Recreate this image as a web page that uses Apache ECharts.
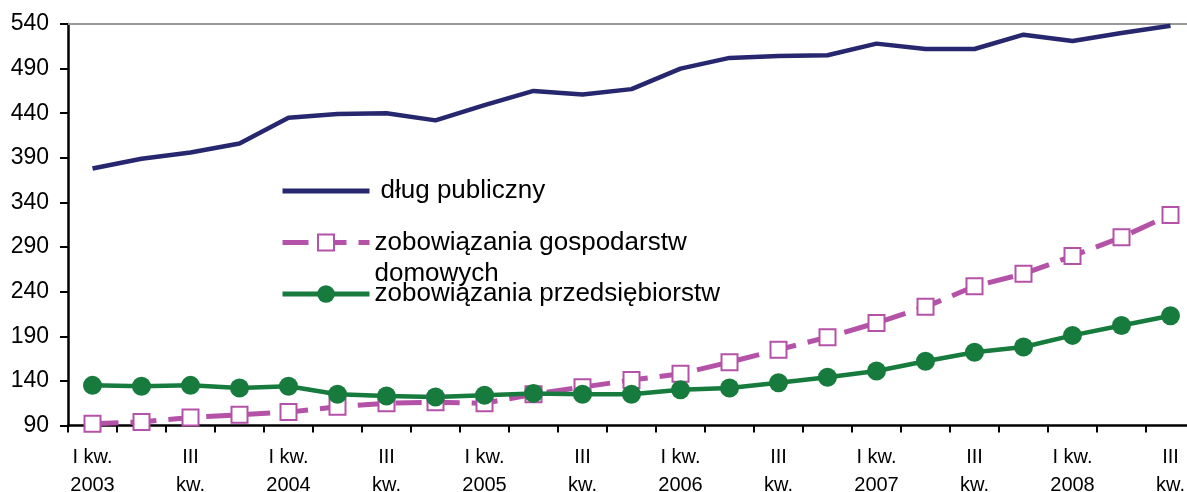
<!DOCTYPE html>
<html>
<head>
  <meta charset="utf-8">
  <script src="https://cdn.jsdelivr.net/npm/echarts@6/dist/echarts.min.js"></script>
  <style>
    html, body { margin: 0; padding: 0; background: #fff; }
    #main { width: 1187px; height: 492px; }
  </style>
</head>
<body>
  <div id="main"></div>
  <script type="text/javascript">
    // kwartaly 2003 - III kw. 2008 (II i IV kw. bez podpisu)
    var quarters = [
      'I kw.\n2003', 'II kw.', 'III\nkw.', 'IV kw.',
      'I kw.\n2004', 'II kw.', 'III\nkw.', 'IV kw.',
      'I kw.\n2005', 'II kw.', 'III\nkw.', 'IV kw.',
      'I kw.\n2006', 'II kw.', 'III\nkw.', 'IV kw.',
      'I kw.\n2007', 'II kw.', 'III\nkw.', 'IV kw.',
      'I kw.\n2008', 'II kw.', 'III\nkw.'
    ];
    var dlugPubliczny = [378, 389, 396, 406, 435, 439, 440, 432, 449, 465, 461, 467, 490, 502, 504, 505, 518, 512, 512, 528, 521, 530, 538];
    var gospodarstwa = [92, 94, 99, 102, 105, 111, 115, 116, 115, 125, 133, 141, 148, 161, 175, 189, 205, 223, 246, 260, 280, 301, 326];
    var przedsiebiorstwa = [135, 134, 135, 132, 134, 125, 123, 122, 124, 126, 125, 125, 130, 132, 138, 144, 151, 162, 172, 178, 191, 202, 213];

    var FONT = 'Liberation Sans, Arial, sans-serif';
    var names = ['dług publiczny', 'zobowiązania gospodarstw domowych', 'zobowiązania przedsiębiorstw'];
    var BLUE = '#27276f', PINK = '#b452a8', GREEN = '#167b3d';

    var myChart = echarts.init(document.getElementById('main'));
    var option = {
      animation: false,
      backgroundColor: '#fff',
      grid: { left: 68, top: 24, width: 1127, height: 401.5, outerBoundsMode: 'none', containLabel: false },
      legend: [
        {
          data: [names[0]], left: 280, top: 178, padding: 0,
          itemWidth: 87, itemHeight: 20,
          itemStyle: { color: 'transparent', borderWidth: 0 },
          lineStyle: { width: 5 },
          textStyle: { fontFamily: FONT, fontSize: 26, color: '#000', padding: [0, 0, 0, 6] }
        },
        {
          data: [names[1]], left: 280, top: 196, padding: 0,
          itemWidth: 87, itemHeight: 20,
          lineStyle: { width: 5 },
          formatter: function () { return '\nzobowiązania gospodarstw\ndomowych'; },
          textStyle: { fontFamily: FONT, fontSize: 26, color: '#000', lineHeight: 31 }
        },
        {
          data: [names[2]], left: 280, top: 281, padding: 0,
          itemWidth: 87, itemHeight: 22,
          lineStyle: { width: 5 },
          textStyle: { fontFamily: FONT, fontSize: 26, color: '#000' }
        }
      ],
      xAxis: [
        {
          type: 'category',
          data: quarters,
          boundaryGap: true,
          axisLine: { lineStyle: { color: '#000', width: 2.5 } },
          axisTick: { show: true, interval: 0, length: 7, lineStyle: { color: '#000', width: 2 } },
          axisLabel: {
            interval: 1, margin: 18, color: '#000', fontFamily: FONT, fontSize: 20, lineHeight: 28
          },
          splitLine: { show: false }
        },
        {
          type: 'category',
          data: quarters,
          position: 'top',
          axisLine: { lineStyle: { color: '#999', width: 2 } },
          axisTick: { show: false },
          axisLabel: { show: false }
        }
      ],
      yAxis: {
        type: 'value',
        min: 90,
        max: 540,
        interval: 50,
        axisLine: { show: true, lineStyle: { color: '#000', width: 2.5 } },
        axisTick: { show: true, length: 8, lineStyle: { color: '#000', width: 2 } },
        axisLabel: { margin: 19, color: '#000', fontFamily: FONT, fontSize: 23 },
        splitLine: { show: false }
      },
      series: [
        {
          name: names[0],
          type: 'line',
          data: dlugPubliczny,
          symbol: 'none',
          lineStyle: { color: BLUE, width: 4.5 },
          itemStyle: { color: BLUE }
        },
        {
          name: names[1],
          type: 'line',
          data: gospodarstwa,
          symbol: 'rect',
          symbolSize: 16,
          lineStyle: { color: PINK, width: 5, type: [26, 12] },
          itemStyle: { color: '#fff', borderColor: PINK, borderWidth: 2 }
        },
        {
          name: names[2],
          type: 'line',
          data: przedsiebiorstwa,
          symbol: 'circle',
          symbolSize: 19,
          lineStyle: { color: GREEN, width: 4.5 },
          itemStyle: { color: GREEN }
        }
      ]
    };
    myChart.setOption(option);
  </script>
</body>
</html>
